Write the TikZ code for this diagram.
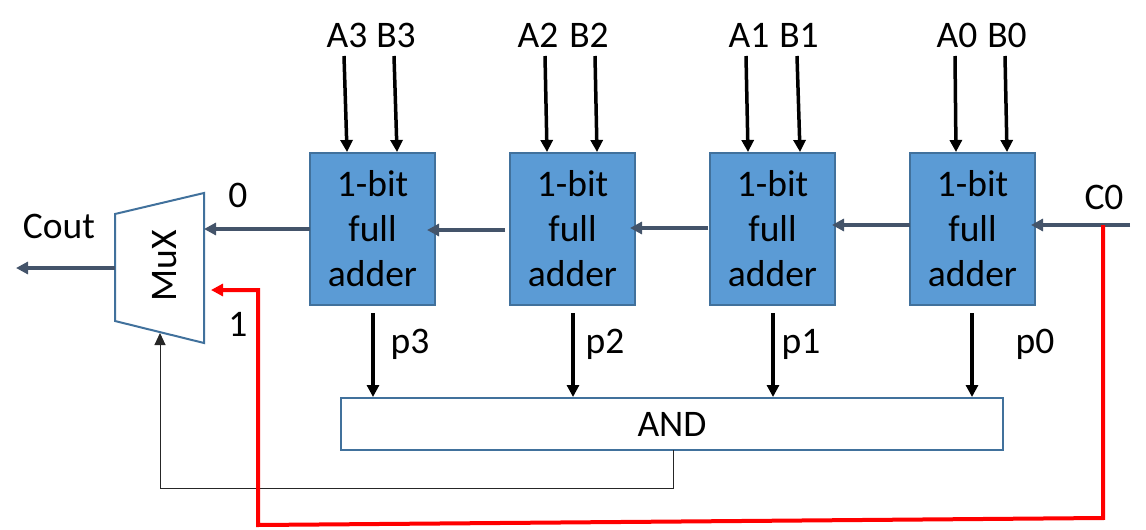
\documentclass[tikz,border=0pt]{standalone}
\usepackage{fontspec}
\setmainfont{Carlito}
\usetikzlibrary{arrows.meta}
\definecolor{boxfill}{HTML}{5B9BD5}
\definecolor{boxedge}{HTML}{41719C}
\definecolor{busline}{HTML}{44546A}
\tikzset{
  x=1pt,y=-1pt,
  every node/.style={font=\fontsize{37.5}{45}\selectfont,text=black,inner sep=0pt},
  adder/.style={draw=boxedge,line width=2pt,fill=boxfill,minimum width=125pt,minimum height=152pt,align=center,text width=125pt},
  gate/.style={draw=boxedge,line width=2pt,fill=white},
  sumbit/.style={-{Triangle[length=12pt,width=12pt]},line width=3.5pt,black},
  carry/.style={-{Triangle[length=12pt,width=12pt]},line width=4pt,busline},
  bypass/.style={-{Triangle[length=12pt,width=12pt]},line width=4pt,red},
  select/.style={-{Triangle[length=12pt,width=11pt]},line width=1pt,black!85},
}
\begin{document}
\begin{tikzpicture}
\useasboundingbox (0,0) rectangle (1146,530);

% Adder stages
\node[adder] (fa3) at (372.5,229) {1-bit\\full\\adder};
\node[adder] (fa2) at (572.5,229) {1-bit\\full\\adder};
\node[adder] (fa1) at (772.5,229) {1-bit\\full\\adder};
\node[adder] (fa0) at (972.5,229) {1-bit\\full\\adder};

% AND gate spanning the propagate signals
\node[gate,minimum width=662pt,minimum height=52pt] (andgate) at (672,424) {AND};

% Multiplexer body
\coordinate (mtl) at (115,214);
\coordinate (mtr) at (204,193);
\coordinate (mbr) at (204,343);
\coordinate (mbl) at (115,321);
\draw[gate] (mtl) -- (mtr) -- (mbr) -- (mbl) -- cycle;
\node[rotate=90] (mux) at (165,266) {MuX};

% Input and signal labels
\foreach \n/\t/\x in {la3/A3/347,lb3/B3/396,la2/A2/538,lb2/B2/589,la1/A1/749,lb1/B1/799,la0/A0/957,lb0/B0/1007}
  \node (\n) at (\x,35) {\t};
\foreach \n/\t/\x/\y in {lp3/p3/410/344,lp2/p2/605/344,lp1/p1/801/344,lp0/p0/1035/344,lzero/0/238/195,lone/1/238/324,lcin/C0/1104/197,lcout/Cout/59/226}
  \node (\n) at (\x,\y) {\t};

% Operand inputs
\foreach \s/\xa/\xb/\xc/\xd in {3/344/347/394/397, 2/545/547/595/597, 1/746/748/797/800, 0/955/956/1005/1007}{
  \coordinate (ia\s) at (\xa,56);
  \coordinate (ib\s) at (\xc,56);
  \coordinate (ta\s) at (\xb,152);
  \coordinate (tb\s) at (\xd,152);
  \draw[sumbit] (ia\s) -- (ta\s);
  \draw[sumbit] (ib\s) -- (tb\s);
}

% Propagate outputs into the AND gate
\foreach \s/\xa/\xb in {3/373/373, 2/573/573, 1/773/773, 0/972/972}{
  \coordinate (po\s) at (\xa,313);
  \coordinate (pi\s) at (\xb,397);
  \draw[sumbit] (po\s) -- (pi\s);
}

% Carry chain
\coordinate (cin) at (1130,225);
\coordinate (cintip) at (1031,225);
\coordinate (c0a) at (910,225);
\coordinate (c0b) at (832,225);
\coordinate (c1a) at (708,228);
\coordinate (c1b) at (630,228);
\coordinate (c2a) at (505,230);
\coordinate (c2b) at (427,230);
\coordinate (c3a) at (310,229);
\coordinate (c3b) at (204,229);
\coordinate (muxout) at (115,268);
\coordinate (coutend) at (16,268);
\draw[carry] (cin) -- (cintip);
\draw[carry] (c0a) -- (c0b);
\draw[carry] (c1a) -- (c1b);
\draw[carry] (c2a) -- (c2b);
\draw[carry] (c3a) -- (c3b);
\draw[carry] (muxout) -- (coutend);

% Select line from the AND gate
\coordinate (sela) at (673,450);
\coordinate (selb) at (673,488);
\coordinate (selc) at (160,488);
\coordinate (seld) at (160,333);
\draw[select] (sela) -- (selb) -- (selc) -- (seld);

% Carry-in bypass to the multiplexer
\coordinate (bya) at (1103,225);
\coordinate (byb) at (1103,518);
\coordinate (byc) at (258,525);
\coordinate (byd) at (258,290);
\coordinate (bye) at (211,290);
\draw[bypass] (bya) -- (byb) -- (byc) -- (byd) -- (bye);
\end{tikzpicture}
\end{document}
